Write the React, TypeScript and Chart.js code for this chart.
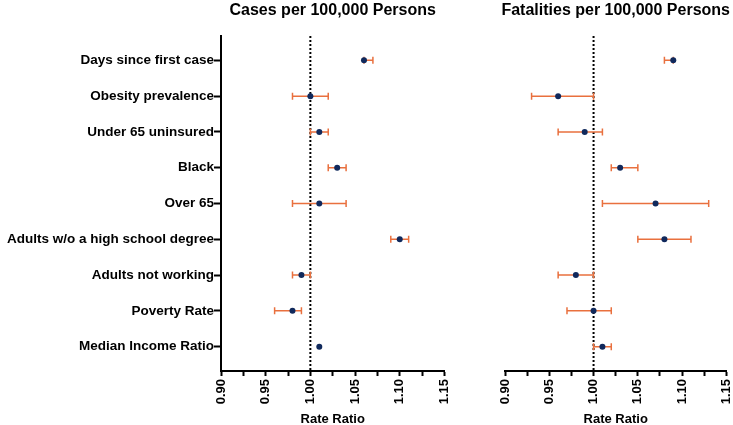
import React, { useEffect, useRef } from "react";
import { Chart, registerables } from "chart.js";

Chart.register(...registerables);

const categories = [
  "Days since first case",
  "Obesity prevalence",
  "Under 65 uninsured",
  "Black",
  "Over 65",
  "Adults w/o a high school degree",
  "Adults not working",
  "Poverty Rate",
  "Median Income Ratio",
];

const casesEst = [1.06, 1.0, 1.01, 1.03, 1.01, 1.1, 0.99, 0.98, 1.01];
const casesLow = [1.06, 0.98, 1.0, 1.02, 0.98, 1.09, 0.98, 0.96, 1.01];
const casesHigh = [1.07, 1.02, 1.02, 1.04, 1.04, 1.11, 1.0, 0.99, 1.01];

const fatalEst = [1.09, 0.96, 0.99, 1.03, 1.07, 1.08, 0.98, 1.0, 1.01];
const fatalLow = [1.08, 0.93, 0.96, 1.02, 1.01, 1.05, 0.96, 0.97, 1.0];
const fatalHigh = [1.09, 1.0, 1.01, 1.05, 1.13, 1.11, 1.0, 1.02, 1.02];

const xTicks = [0.9, 0.925, 0.95, 0.975, 1.0, 1.025, 1.05, 1.075, 1.1, 1.125, 1.15];
const xTickLabels = ["0.90", "", "0.95", "", "1.00", "", "1.05", "", "1.10", "", "1.15"];

const FONT = '"Liberation Sans", Arial, Helvetica, sans-serif';
const ORANGE = "#E9703E";
const NAVY = "#10295C";

type PanelProps = {
  title: string;
  est: number[];
  low: number[];
  high: number[];
  showLabels: boolean;
  left: number;
  width: number;
  yWidth: number;
  padRight: number;
};

function Panel({ title, est, low, high, showLabels, left, width, yWidth, padRight }: PanelProps) {
  const ref = useRef<HTMLCanvasElement | null>(null);

  useEffect(() => {
    if (!ref.current) return;
    const overlay = {
      id: "overlay",
      beforeDatasetsDraw(chart: any) {
        const { ctx, chartArea, scales } = chart;
        const x = scales.x;
        const y = scales.y;
        ctx.save();
        const x1 = x.getPixelForValue(1);
        ctx.strokeStyle = "#000";
        ctx.lineWidth = 2;
        ctx.setLineDash([2, 2]);
        ctx.beginPath();
        ctx.moveTo(x1, chartArea.top);
        ctx.lineTo(x1, chartArea.bottom);
        ctx.stroke();
        ctx.setLineDash([]);
        ctx.strokeStyle = ORANGE;
        ctx.lineWidth = 1.5;
        low.forEach((lo, i) => {
          const hi = high[i];
          if (hi - lo < 1e-9) return;
          const py = y.getPixelForValue(i);
          const a = x.getPixelForValue(lo);
          const b = x.getPixelForValue(hi);
          ctx.beginPath();
          ctx.moveTo(a, py);
          ctx.lineTo(b, py);
          ctx.moveTo(a, py - 3.5);
          ctx.lineTo(a, py + 3.5);
          ctx.moveTo(b, py - 3.5);
          ctx.lineTo(b, py + 3.5);
          ctx.stroke();
        });
        ctx.restore();
      },
      afterDraw(chart: any) {
        const { ctx, chartArea } = chart;
        ctx.save();
        ctx.fillStyle = "#000";
        ctx.font = `bold 16px ${FONT}`;
        ctx.textAlign = "center";
        ctx.textBaseline = "alphabetic";
        ctx.fillText(title, (chartArea.left + chartArea.right) / 2, 15);
        ctx.restore();
      },
    };

    const chart = new Chart(ref.current, {
      type: "scatter",
      data: {
        datasets: [
          {
            data: est.map((v, i) => ({ x: v, y: i })),
            pointRadius: 3,
            pointBackgroundColor: NAVY,
            pointBorderWidth: 0,
            backgroundColor: NAVY,
          },
        ],
      },
      options: {
        animation: false,
        responsive: false,
        events: [],
        layout: { padding: { top: 36, right: padRight, left: 0, bottom: 0 } },
        plugins: { legend: { display: false }, tooltip: { enabled: false } },
        scales: {
          x: {
            type: "linear",
            min: 0.9,
            max: 1.15,
            afterBuildTicks: (scale: any) => {
              scale.ticks = xTicks.map((v) => ({ value: v }));
            },
            afterFit: (scale: any) => {
              scale.height = 54;
            },
            ticks: {
              autoSkip: false,
              minRotation: 90,
              maxRotation: 90,
              padding: 3,
              color: "#000",
              font: { family: FONT, size: 13, weight: "bold" },
              callback: (_v: any, i: number) => xTickLabels[i],
            },
            grid: {
              drawOnChartArea: false,
              drawTicks: true,
              tickLength: 5,
              tickWidth: 2,
              tickColor: "#000",
            },
            border: { color: "#000", width: 2 },
            title: {
              display: true,
              text: "Rate Ratio",
              color: "#000",
              font: { family: FONT, size: 13, weight: "bold" },
              padding: { top: 0, bottom: -2 },
            },
          },
          y: {
            type: "linear",
            display: showLabels,
            reverse: true,
            min: -0.68,
            max: 8.68,
            afterBuildTicks: (scale: any) => {
              scale.ticks = categories.map((_c, i) => ({ value: i }));
            },
            afterFit: (scale: any) => {
              scale.width = yWidth;
            },
            ticks: {
              autoSkip: false,
              padding: 0,
              color: "#000",
              font: { family: FONT, size: 13.5, weight: "bold" },
              callback: (_v: any, i: number) => categories[i],
            },
            grid: {
              drawOnChartArea: false,
              drawTicks: true,
              tickLength: 7,
              tickWidth: 2,
              tickColor: "#000",
            },
            border: { color: "#000", width: 2 },
          },
        },
      } as any,
      plugins: [overlay],
    });
    return () => chart.destroy();
  }, []);

  return (
    <div style={{ position: "absolute", left, top: 0, width, height: 425 }}>
      <canvas ref={ref} width={width} height={425} style={{ display: "block" }} />
    </div>
  );
}

export default function App() {
  return (
    <div style={{ position: "fixed", left: 0, top: 0, width: 733, height: 425, background: "#fff", overflow: "hidden" }}>
      <Panel
        title="Cases per 100,000 Persons"
        est={casesEst}
        low={casesLow}
        high={casesHigh}
        showLabels={true}
        left={0}
        width={463}
        yWidth={221}
        padRight={15}
      />
      <Panel
        title="Fatalities per 100,000 Persons"
        est={fatalEst}
        low={fatalLow}
        high={fatalHigh}
        showLabels={false}
        left={480}
        width={265}
        yWidth={25}
        padRight={6}
      />
    </div>
  );
}
